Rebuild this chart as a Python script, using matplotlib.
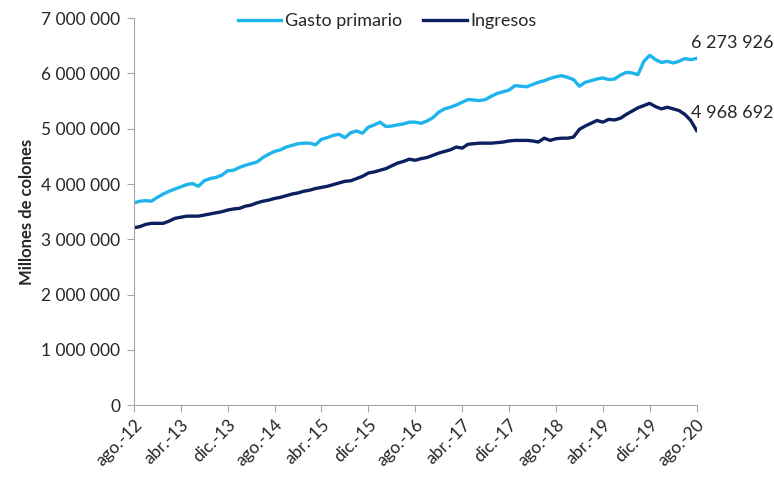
import matplotlib
matplotlib.use("Agg")
import matplotlib.pyplot as plt
from matplotlib.ticker import FuncFormatter

# --- colours / fonts ---
LIGHT_BLUE = "#1eb4ec"
NAVY = "#0c1f5e"
AXIS_GRAY = "#a6a6a6"
TEXT = "#262626"
plt.rcParams["font.family"] = ["Lato", "DejaVu Sans"]

# --- data (millions of colones, monthly ago-12 .. ago-20) ---
months = ["ene", "feb", "mar", "abr", "may", "jun", "jul", "ago", "set", "oct", "nov", "dic"]
periods = [f"{months[(7 + i) % 12]}.-{12 + (7 + i) // 12}" for i in range(97)]

gasto_primario = [
    3.66, 3.69, 3.70, 3.69, 3.76, 3.82, 3.87, 3.91, 3.95, 3.99, 4.01, 3.96,
    4.06, 4.10, 4.12, 4.16, 4.24, 4.25, 4.30, 4.34, 4.37, 4.40, 4.48, 4.54,
    4.59, 4.62, 4.67, 4.70, 4.73, 4.74, 4.74, 4.71, 4.81, 4.84, 4.88, 4.90,
    4.84, 4.93, 4.96, 4.92, 5.03, 5.07, 5.12, 5.04, 5.05, 5.07, 5.09, 5.12,
    5.12, 5.10, 5.14, 5.20, 5.30, 5.36, 5.39, 5.43, 5.48, 5.53, 5.52, 5.51,
    5.53, 5.59, 5.64, 5.67, 5.70, 5.78, 5.77, 5.76, 5.80, 5.84, 5.87, 5.91,
    5.94, 5.96, 5.93, 5.89, 5.77, 5.84, 5.87, 5.90, 5.92, 5.89, 5.90, 5.97,
    6.02, 6.01, 5.98, 6.22, 6.33, 6.25, 6.20, 6.22, 6.19, 6.22, 6.27, 6.25,
    6.273926,
]
ingresos = [
    3.21, 3.23, 3.27, 3.29, 3.29, 3.29, 3.33, 3.38, 3.40, 3.42, 3.42, 3.42,
    3.44, 3.46, 3.48, 3.50, 3.53, 3.55, 3.56, 3.60, 3.62, 3.66, 3.69, 3.71,
    3.74, 3.76, 3.79, 3.82, 3.84, 3.87, 3.89, 3.92, 3.94, 3.96, 3.99, 4.02,
    4.05, 4.06, 4.10, 4.14, 4.20, 4.22, 4.25, 4.28, 4.33, 4.38, 4.41, 4.45,
    4.43, 4.46, 4.48, 4.52, 4.56, 4.59, 4.62, 4.67, 4.65, 4.72, 4.73, 4.74,
    4.74, 4.74, 4.75, 4.76, 4.78, 4.79, 4.79, 4.79, 4.78, 4.76, 4.83, 4.79,
    4.82, 4.83, 4.83, 4.85, 4.99, 5.05, 5.10, 5.15, 5.12, 5.17, 5.16, 5.19,
    5.26, 5.32, 5.38, 5.42, 5.46, 5.40, 5.36, 5.39, 5.36, 5.33, 5.26, 5.15,
    4.968692,
]
gasto_primario = [v * 1e6 for v in gasto_primario]
ingresos = [v * 1e6 for v in ingresos]

fig = plt.figure(figsize=(7.74, 4.79), dpi=100)
ax = fig.add_axes([0.173, 0.154, 0.727, 0.808])

x = list(range(len(periods)))
ax.plot(x, gasto_primario, color=LIGHT_BLUE, lw=2.4, label="Gasto primario")
ax.plot(x, ingresos, color=NAVY, lw=2.4, label="Ingresos")

ax.set_xlim(0, 96)
ax.set_ylim(0, 7e6)
ax.set_yticks([i * 1e6 for i in range(8)])
ax.yaxis.set_major_formatter(FuncFormatter(lambda v, p: f"{int(v):,}".replace(",", " ")))
ax.set_xticks(x[::8])
ax.set_xticklabels(periods[::8], rotation=45, ha="right", rotation_mode="anchor")

for s in ["top", "right"]:
    ax.spines[s].set_visible(False)
for s in ["left", "bottom"]:
    ax.spines[s].set_color(AXIS_GRAY)
ax.tick_params(axis="both", colors=AXIS_GRAY, labelcolor=TEXT, length=5)
ax.tick_params(axis="y", labelsize=12.5, pad=5)
ax.tick_params(axis="x", labelsize=12.5, pad=3)

ax.set_ylabel("Millones de colones", fontsize=12, fontweight="bold", color=TEXT, labelpad=4)

# end-point labels
ax.annotate(f"{round(gasto_primario[-1]):,}".replace(",", " "), (x[-1], gasto_primario[-1]),
            xytext=(-4, 5), textcoords="offset points", fontsize=13, color=TEXT,
            ha="left", va="bottom", annotation_clip=False)
ax.annotate(f"{round(ingresos[-1]):,}".replace(",", " "), (x[-1], ingresos[-1]),
            xytext=(-4, 7), textcoords="offset points", fontsize=13, color=TEXT,
            ha="left", va="bottom", annotation_clip=False)

leg = ax.legend(loc="upper center", bbox_to_anchor=(0.45, 1.055), ncol=2, frameon=False,
                fontsize=13, handlelength=2.4, columnspacing=1.2, handletextpad=0.2)
for t in leg.get_texts():
    t.set_color(TEXT)

fig.savefig("out.png", dpi=100)
